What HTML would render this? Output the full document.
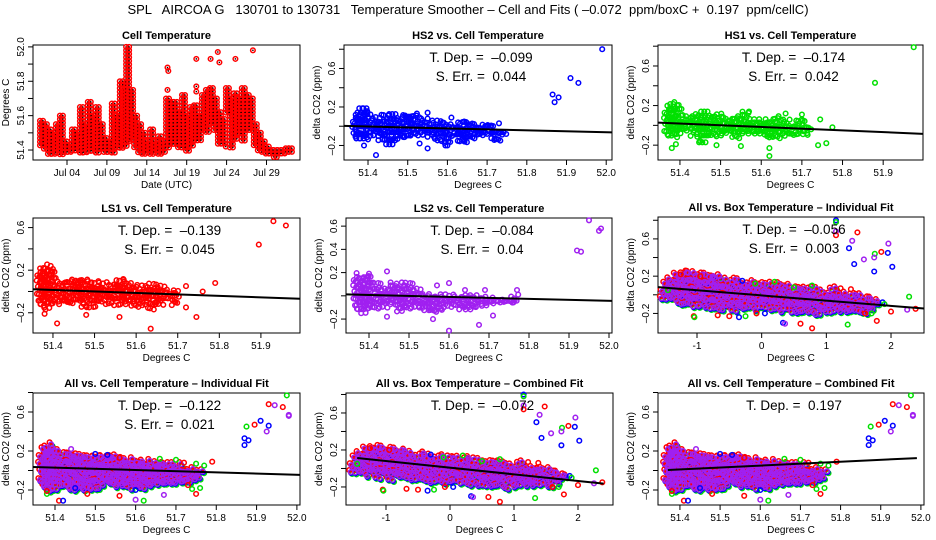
<!DOCTYPE html>
<html><head><meta charset="utf-8"><style>
html,body{margin:0;padding:0;background:#fff}
svg{display:block;font-family:"Liberation Sans",sans-serif}
text{white-space:pre}
</style></head><body>
<svg id="chart" width="936" height="540" viewBox="0 0 936 540" xmlns="http://www.w3.org/2000/svg">
<rect width="936" height="540" fill="#fff"/>
<text x="468" y="14" text-anchor="middle" font-size="13" xml:space="preserve">SPL   AIRCOA G   130701 to 130731   Temperature Smoother – Cell and Fits ( –0.072  ppm/boxC +  0.197  ppm/cellC)</text>
</svg>
<script>
// ---- data ----
const timeDays = [0.8,1.3,1.8,2.3,2.8,3.3,3.8,4.3,4.8,5.3,5.8,6.3,6.8,7.3,7.8,8.3,8.8,9.3,9.8,10.3,10.8,11.3,11.6,12.1,12.6,13.1,13.6,14.1,14.6,15.1,15.6,16.1,16.6,17.1,17.6,18.1,18.6,19.1,19.6,20.1,20.6,21.1,21.6,22.1,22.6,23.1,23.6,24.1,24.6,25.1,25.6,26.1,26.6,27.1,27.6,28.1,28.6,29.1,29.6,30.1,30.6,31.1,31.6,32.0];
const timeLo = [51.42,51.40,51.37,51.37,51.38,51.37,51.37,51.37,51.38,51.38,51.38,51.38,51.38,51.38,51.38,51.40,51.38,51.37,51.38,51.40,51.40,51.42,51.45,51.45,51.40,51.37,51.37,51.37,51.37,51.37,51.37,51.38,51.40,51.42,51.42,51.40,51.40,51.38,51.42,51.45,51.45,51.50,51.50,51.55,51.50,51.43,51.43,51.60,51.40,51.45,51.48,51.45,51.50,51.50,51.42,51.38,51.38,51.37,51.36,51.35,51.36,51.36,51.37,51.37];
const timeHi = [51.57,51.55,51.52,51.50,51.55,51.60,51.45,51.43,51.52,51.50,51.65,51.55,51.68,51.60,51.65,51.55,51.47,51.45,51.67,51.60,51.80,51.75,52.00,51.75,51.60,51.55,51.50,51.45,51.52,51.45,51.48,51.45,51.70,51.68,51.68,51.62,51.72,51.60,51.65,51.66,51.60,51.72,51.75,51.76,51.70,51.62,51.58,51.76,51.70,51.73,51.70,51.76,51.72,51.70,51.55,51.50,51.45,51.42,51.40,51.40,51.40,51.40,51.41,51.41];
const timeOutliers = [[16.6,51.88],[16.7,51.86],[16.6,51.75],[20.2,51.93],[20.2,51.77],[20.2,51.74],[22.0,51.93],[22.9,51.97],[23.1,51.91],[25.1,51.93],[27.3,51.98],[23.9,51.42]];
const timeTicks = [4,9,14,19,24,29];
const timeTickLabels = ["Jul 04","Jul 09","Jul 14","Jul 19","Jul 24","Jul 29"];

const hs2Cloud = [[51.37,-0.1,0.1],[51.38,-0.15,0.18],[51.39,-0.15,0.18],[51.40,-0.12,0.15],[51.42,-0.10,0.08],[51.44,-0.15,0.10],[51.46,-0.18,0.12],[51.48,-0.15,0.08],[51.50,-0.12,0.12],[51.52,-0.10,0.12],[51.54,-0.10,0.06],[51.56,-0.12,0.04],[51.58,-0.15,0.04],[51.60,-0.18,0.02],[51.62,-0.12,0.0],[51.64,-0.18,0.06],[51.66,-0.15,0.04],[51.68,-0.12,0.0],[51.70,-0.08,0.02],[51.73,-0.15,-0.05],[51.74,-0.12,-0.06]];
const hs2Out = [[51.42,-0.3],[51.55,-0.23],[51.53,-0.18],[51.39,-0.2],[51.865,0.33],[51.87,0.25],[51.88,0.3],[51.91,0.5],[51.93,0.45],[51.99,0.8],[51.6,-0.2],[51.73,0.03],[51.55,0.14],[51.61,0.09]];
const hs1Cloud = [[51.37,-0.1,0.18],[51.38,-0.12,0.2],[51.39,-0.12,0.22],[51.40,-0.1,0.15],[51.42,-0.05,0.08],[51.44,-0.12,0.1],[51.46,-0.15,0.14],[51.48,-0.12,0.1],[51.50,-0.1,0.1],[51.52,-0.1,0.06],[51.54,-0.12,0.08],[51.56,-0.1,0.12],[51.58,-0.1,0.05],[51.60,-0.1,0.05],[51.62,-0.15,0.04],[51.64,-0.12,0.08],[51.66,-0.1,0.04],[51.68,-0.1,0.0],[51.70,-0.08,0.06],[51.72,-0.1,-0.02]];
const hs1Out = [[51.38,-0.23],[51.39,-0.19],[51.62,-0.31],[51.62,-0.23],[51.74,-0.2],[51.76,-0.18],[51.55,-0.21],[51.45,-0.16],[51.49,-0.2],[51.775,-0.02],[51.88,0.43],[51.975,0.79],[51.66,0.12],[51.7,0.11],[51.745,0.06],[51.57,0.14]];
const ls1Cloud = [[51.37,-0.1,0.2],[51.38,-0.15,0.22],[51.39,-0.15,0.24],[51.40,-0.12,0.2],[51.42,-0.1,0.08],[51.44,-0.12,0.1],[51.46,-0.1,0.12],[51.48,-0.15,0.1],[51.50,-0.15,0.08],[51.52,-0.1,0.07],[51.54,-0.12,0.05],[51.56,-0.12,0.1],[51.58,-0.12,0.08],[51.60,-0.15,0.05],[51.62,-0.12,0.04],[51.64,-0.15,0.06],[51.66,-0.12,0.04],[51.68,-0.08,0.0],[51.70,-0.12,0.0]];
const ls1Out = [[51.38,-0.21],[51.41,-0.3],[51.48,-0.22],[51.56,-0.24],[51.635,-0.35],[51.745,-0.24],[51.72,-0.15],[51.72,0.05],[51.76,0.0],[51.79,0.08],[51.895,0.44],[51.93,0.66],[51.96,0.62],[51.57,0.11]];
const ls2Cloud = [[51.37,-0.1,0.18],[51.38,-0.12,0.15],[51.39,-0.15,0.16],[51.40,-0.12,0.18],[51.42,-0.1,0.1],[51.44,-0.1,0.05],[51.46,-0.08,0.1],[51.48,-0.12,0.1],[51.50,-0.1,0.1],[51.52,-0.1,0.05],[51.54,-0.12,0.0],[51.56,-0.15,0.0],[51.58,-0.12,0.0],[51.60,-0.1,0.0],[51.62,-0.1,-0.02],[51.64,-0.12,0.0],[51.66,-0.12,0.0],[51.68,-0.1,-0.02],[51.70,-0.1,-0.02],[51.72,-0.08,-0.03],[51.75,-0.06,-0.03],[51.77,-0.06,0.0]];
const ls2Out = [[51.445,0.21],[51.445,-0.18],[51.56,-0.2],[51.6,-0.3],[51.675,-0.25],[51.71,-0.17],[51.57,0.09],[51.6,0.11],[51.64,0.05],[51.69,0.05],[51.77,0.05],[51.92,0.39],[51.93,0.38],[51.95,0.65],[51.975,0.56],[51.98,0.58]];
const boxCloud = [[-1.5,-0.05,0.1],[-1.4,-0.05,0.15],[-1.3,-0.08,0.2],[-1.2,-0.08,0.22],[-1.1,-0.1,0.22],[-1.0,-0.1,0.2],[-0.9,-0.12,0.2],[-0.8,-0.12,0.18],[-0.7,-0.12,0.18],[-0.6,-0.15,0.15],[-0.5,-0.12,0.12],[-0.4,-0.15,0.15],[-0.3,-0.15,0.12],[-0.2,-0.15,0.1],[-0.1,-0.15,0.12],[0,-0.15,0.1],[0.1,-0.15,0.1],[0.2,-0.15,0.08],[0.3,-0.18,0.1],[0.4,-0.15,0.08],[0.5,-0.18,0.05],[0.6,-0.18,0.05],[0.7,-0.18,0.05],[0.8,-0.2,0.05],[0.9,-0.2,0.02],[1.0,-0.18,0.0],[1.1,-0.2,0.05],[1.2,-0.2,0.0],[1.3,-0.2,0.0],[1.4,-0.18,-0.02],[1.5,-0.18,-0.02],[1.6,-0.18,-0.05],[1.7,-0.15,-0.06],[1.8,-0.12,-0.08]];
const boxOut = [[1.15,0.8,0],[1.15,0.78,1],[1.15,0.68,3],[1.15,0.64,2],[1.48,0.67,2],[1.4,0.58,3],[1.35,0.5,0],[1.96,0.55,3],[1.95,0.45,0],[1.85,0.46,2],[1.75,0.44,1],[1.74,0.4,3],[1.58,0.38,3],[1.43,0.33,0],[2.02,0.3,0],[1.74,0.25,0],[2.28,-0.02,1],[2.38,-0.15,2],[2.25,-0.16,3],[2.0,-0.18,2],[1.78,-0.28,2],[1.33,-0.32,1],[0.78,-0.36,2],[0.6,-0.31,2],[0.33,-0.3,0],[0.36,-0.31,3],[-1.05,-0.23,2],[-1.04,-0.24,1],[-0.68,-0.22,2],[-0.5,-0.23,2],[-0.35,-0.24,0],[-0.25,-0.23,1],[-0.08,-0.2,2],[0.2,0.14,1],[0.78,0.1,1],[0.5,0.08,1],[1.22,0.07,2],[1.38,0.06,2],[1.87,-0.08,0],[1.9,-0.1,1],[1.6,-0.2,2],[1.7,-0.2,1],[-1.45,0.05,1],[-0.75,0.2,3],[-0.3,0.15,0],[-1.25,0.22,2],[-0.95,0.2,2],[-0.1,0.12,1],[0.05,-0.2,0]];
const cellCloud = [[51.37,-0.15,0.2],[51.38,-0.2,0.22],[51.39,-0.2,0.25],[51.40,-0.18,0.2],[51.42,-0.15,0.15],[51.44,-0.18,0.15],[51.46,-0.18,0.15],[51.48,-0.2,0.12],[51.50,-0.18,0.12],[51.52,-0.15,0.12],[51.54,-0.15,0.15],[51.56,-0.18,0.1],[51.58,-0.15,0.1],[51.60,-0.18,0.08],[51.62,-0.18,0.08],[51.64,-0.18,0.06],[51.66,-0.15,0.08],[51.68,-0.12,0.05],[51.70,-0.12,0.05],[51.72,-0.15,0.0],[51.74,-0.12,0.0],[51.76,-0.1,-0.02]];
const cellOut = [[51.99,0.8,0],[51.975,0.77,1],[51.965,0.65,2],[51.945,0.67,3],[51.93,0.68,2],[51.98,0.56,3],[51.98,0.57,3],[51.91,0.51,0],[51.93,0.46,0],[51.895,0.47,2],[51.875,0.45,1],[51.925,0.4,3],[51.87,0.33,0],[51.88,0.31,0],[51.87,0.26,0],[51.79,0.09,2],[51.76,-0.18,1],[51.74,-0.19,1],[51.75,-0.24,2],[51.64,-0.35,2],[51.62,-0.31,1],[51.6,-0.3,3],[51.67,-0.25,3],[51.41,-0.31,2],[51.42,-0.31,0],[51.38,-0.24,1],[51.38,-0.21,2],[51.56,-0.26,2],[51.48,-0.24,2],[51.6,-0.2,0],[51.44,0.22,3],[51.5,0.17,0],[51.66,0.12,1],[51.7,0.11,1],[51.72,0.08,2],[51.56,0.13,2],[51.53,0.16,0],[51.45,-0.18,0],[51.73,-0.15,2],[51.75,0.07,1],[51.77,0.05,1]];

const tDeps = ["–0.099","–0.174","–0.139","–0.084","–0.056","–0.122","–0.072","0.197"];
const sErrs = ["0.044","0.042","0.045","0.04","0.003","0.021",null,null];
const fitSlopes = [-0.099,-0.174,-0.139,-0.084,-0.056,-0.122,-0.072,0.197];
const fitStartY = [0.003,0.028,0.021,0.012,0.083,0.036,0.113,0.005];
const cellTicks = [51.4,51.5,51.6,51.7,51.8,51.9,52.0];
const boxTicks = [-1,0,1,2];
const COLORS = ["#0000ff","#00e000","#ff0000","#a020f0"];

// ---- rendering ----
const svg = document.getElementById('chart');
const NS = 'http://www.w3.org/2000/svg';
function mk(tag, attrs, parent){ const e=document.createElementNS(NS,tag); for(const k in attrs) e.setAttribute(k,attrs[k]); (parent||svg).appendChild(e); return e; }
function scale(d0,d1,r0,r1){ return v => r0+(v-d0)*(r1-r0)/(d1-d0); }

function panelFrame(p){
  const g = mk('g',{});
  
  
  p.g = g;
  p.sx = scale(p.xd[0],p.xd[1],p.L,p.R);
  p.sy = scale(p.yd[0],p.yd[1],p.B,p.T);
  const box = mk('rect',{x:p.L,y:p.T,width:p.R-p.L,height:p.B-p.T,fill:'none',stroke:'#000','stroke-width':1},g);
  
  
  const t = mk('text',{x:(p.L+p.R)/2,y:p.T-6,'text-anchor':'middle','font-size':11,'font-weight':'bold'},g);
  t.textContent = p.title;
  
  
  const xa = mk('g',{},g);
  
  
  p.xticks.forEach((v,i)=>{
    const x = p.sx(v); if(x<p.L-0.5||x>p.R+0.5) return;
    mk('line',{x1:x,x2:x,y1:p.B,y2:p.B+5,stroke:'#000'},xa);
    const l = mk('text',{x:x,y:p.B+16,'text-anchor':'middle','font-size':10},xa);
    l.textContent = p.xlabels ? p.xlabels[i] : (Math.abs(v)<10? String(v) : v.toFixed(1));
    
    
  });
  const xt = mk('text',{x:(p.L+p.R)/2,y:p.B+28,'text-anchor':'middle','font-size':10},g);
  xt.textContent = p.xtitle;
  
  
  const ya = mk('g',{},g);
  
  
  p.yticks.forEach(v=>{
    const y = p.sy(v); if(y<p.T-0.5||y>p.B+0.5) return;
    mk('line',{x1:p.L-5,x2:p.L,y1:y,y2:y,stroke:'#000'},ya);
    if(p.ylabels.indexOf(v)>=0){
      const l = mk('text',{x:p.L-9,y:y,'text-anchor':'middle','font-size':10,transform:`rotate(-90 ${p.L-9} ${y})`},ya);
      l.textContent = (v<0?'–':'') + Math.abs(v).toFixed(1);
      
      
    }
  });
  const yt = mk('text',{x:p.L-24,y:(p.T+p.B)/2,'text-anchor':'middle','font-size':10,transform:`rotate(-90 ${p.L-24} ${(p.T+p.B)/2})`},g);
  yt.textContent = p.ytitle;
  
  
}
function pt(p,x,y,color,parent,dot){
  if(x<p.L+1||x>p.R-1||y<p.T+1||y>p.B-1) return;
  mk('circle',{cx:x.toFixed(1),cy:y.toFixed(1),r:2.3,fill:'none',stroke:color,'stroke-width':1.5},parent);
  if(dot) mk('rect',{x:(x-0.7).toFixed(1),y:(y-0.7).toFixed(1),width:1.4,height:1.4,fill:'#000'},parent);
}
// deterministic rendering jitter (visual texture only, not data)
const JIT=[0,1.6,-1.2,0.8,-1.8,1.2,-0.6,2.0,-1.5,0.4];
function drawCloud(p,cloud,color,dx,dy,parent,dot,step){
  let n=0;
  cloud.forEach((c,i)=>{
    const xc = p.sx(c[0]);
    const prev = i>0 ? p.sx(cloud[i-1][0]) : xc-4;
    const next = i<cloud.length-1 ? p.sx(cloud[i+1][0]) : xc+4;
    const x0 = (xc+prev)/2, x1=(xc+next)/2;
    const yTop = p.sy(c[2]), yBot = p.sy(c[1]);
    for(let x=x0; x<=x1; x+=step){
      for(let y=yTop; y<=yBot+0.1; y+=step){ n++; pt(p,x+dx+JIT[n%10],y+dy+JIT[(n*3+1)%10],color,parent,dot); }
    }
  });
}
function drawFit(p,k,x0,x1){
  const y0 = fitStartY[k], s = fitSlopes[k];
  const l = mk('line',{x1:p.sx(x0),y1:p.sy(y0),x2:p.sx(x1),y2:p.sy(y0+s*(x1-x0)),stroke:'#000','stroke-width':2},p.g);
  
  
}
function stats(p,k){
  const cx=(p.L+p.R)/2+3;
  const a = mk('text',{x:cx,y:p.T+17,'text-anchor':'middle','font-size':13.5},p.g);
  a.textContent = 'T. Dep. =  '+tDeps[k];
  
  
  if(sErrs[k]!==null){
    const b = mk('text',{x:cx,y:p.T+36,'text-anchor':'middle','font-size':13.5},p.g);
    b.textContent = 'S. Err. =  '+sErrs[k];
    
    
  }
}
const dyT=[-0.2,0,0.2,0.4,0.6,0.8], dyL=[-0.2,0.2,0.6];
const cellX='Degrees C', dY='delta CO2 (ppm)';

const p1={name:'cell-temperature-panel',title:'Cell Temperature',L:33,R:300,T:45,B:160,xd:[-0.26,33.2],yd:[51.342,52.011],
  xticks:timeTicks,xlabels:timeTickLabels,yticks:[51.4,51.5,51.6,51.7,51.8,51.9,52.0],ylabels:[51.4,51.6,51.8,52.0],xtitle:'Date (UTC)',ytitle:'Degrees C'};
panelFrame(p1);
{ const g=mk('g',{},p1.g);
  
  
  timeDays.forEach((d,i)=>{
    const xc=p1.sx(d);
    for(let x=xc-1.5;x<=xc+1.6;x+=3){ for(let y=p1.sy(timeHi[i]);y<=p1.sy(timeLo[i])+0.1;y+=3.5){ pt(p1,x,y,'#ff0000',g,true);} }
  });
  timeOutliers.forEach(o=>pt(p1,p1.sx(o[0]),p1.sy(o[1]),'#ff0000',g,true));
}

function single(def,k,cloud,out,color){
  panelFrame(def);
  const g=mk('g',{},def.g);
  
  
  drawCloud(def,cloud,color,0,0,g,false,3.2);
  out.forEach(o=>pt(def,def.sx(o[0]),def.sy(o[1]),color,g,false));
  drawFit(def,k,def.xd[0],def.xd[1]);
  stats(def,k);
}
single({name:'hs2-panel',title:'HS2 vs. Cell Temperature',L:344,R:612,T:45,B:160,xd:[51.3395,52.0146],yd:[-0.351,0.844],xticks:cellTicks,yticks:dyT,ylabels:dyL,xtitle:cellX,ytitle:dY},0,hs2Cloud,hs2Out,COLORS[0]);
single({name:'hs1-panel',title:'HS1 vs. Cell Temperature',L:658,R:923,T:45,B:160,xd:[51.346,51.998],yd:[-0.35,0.812],xticks:cellTicks,yticks:dyT,ylabels:dyL,xtitle:cellX,ytitle:dY},1,hs1Cloud,hs1Out,COLORS[1]);
single({name:'ls1-panel',title:'LS1 vs. Cell Temperature',L:33,R:300,T:218,B:333,xd:[51.352,51.994],yd:[-0.39,0.69],xticks:cellTicks,yticks:dyT,ylabels:dyL,xtitle:cellX,ytitle:dY},2,ls1Cloud,ls1Out,COLORS[2]);
single({name:'ls2-panel',title:'LS2 vs. Cell Temperature',L:346,R:612,T:218,B:333,xd:[51.3425,52.0075],yd:[-0.32,0.67],xticks:cellTicks,yticks:dyT,ylabels:[-0.2,0.2,0.4,0.6],xtitle:cellX,ytitle:dY},3,ls2Cloud,ls2Out,COLORS[3]);

function multi(def,k,cloud,out,fx0,fx1){
  panelFrame(def);
  const g=mk('g',{},def.g);
  
  
  drawCloud(def,cloud,COLORS[1],2,2,g,false,4);
  drawCloud(def,cloud,COLORS[0],1,1,g,false,4);
  drawCloud(def,cloud,COLORS[2],-1,-2,g,false,4);
  drawCloud(def,cloud,COLORS[3],0.5,0,g,false,4);
  out.forEach(o=>pt(def,def.sx(o[0]),def.sy(o[1]),COLORS[o[2]],g,false));
  drawFit(def,k,fx0,fx1);
  stats(def,k);
}
const p6={name:'all-box-individual-panel',title:'All vs. Box Temperature – Individual Fit',L:658,R:924,T:217,B:333,xd:[-1.603,2.51],yd:[-0.41,0.835],xticks:boxTicks,yticks:dyT,ylabels:dyL,xtitle:cellX,ytitle:dY};
multi(p6,4,boxCloud,boxOut,-1.603,2.51);
const p7={name:'all-cell-individual-panel',title:'All vs. Cell Temperature – Individual Fit',L:33,R:300,T:393,B:505,xd:[51.3454,52.0077],yd:[-0.354,0.795],xticks:cellTicks,yticks:dyT,ylabels:dyL,xtitle:cellX,ytitle:dY};
multi(p7,5,cellCloud,cellOut,51.3454,52.0077);
const p8={name:'all-box-combined-panel',title:'All vs. Box Temperature – Combined Fit',L:346,R:613,T:393,B:505,xd:[-1.625,2.547],yd:[-0.395,0.816],xticks:boxTicks,yticks:dyT,ylabels:dyL,xtitle:cellX,ytitle:dY};
multi(p8,6,boxCloud,boxOut,-1.45,2.4);
const p9={name:'all-cell-combined-panel',title:'All vs. Cell Temperature – Combined Fit',L:658,R:924,T:393,B:505,xd:[51.3454,52.0077],yd:[-0.354,0.795],xticks:cellTicks,yticks:dyT,ylabels:dyL,xtitle:cellX,ytitle:dY};
multi(p9,7,cellCloud,cellOut,51.37,51.99);
</script>
</body></html>
